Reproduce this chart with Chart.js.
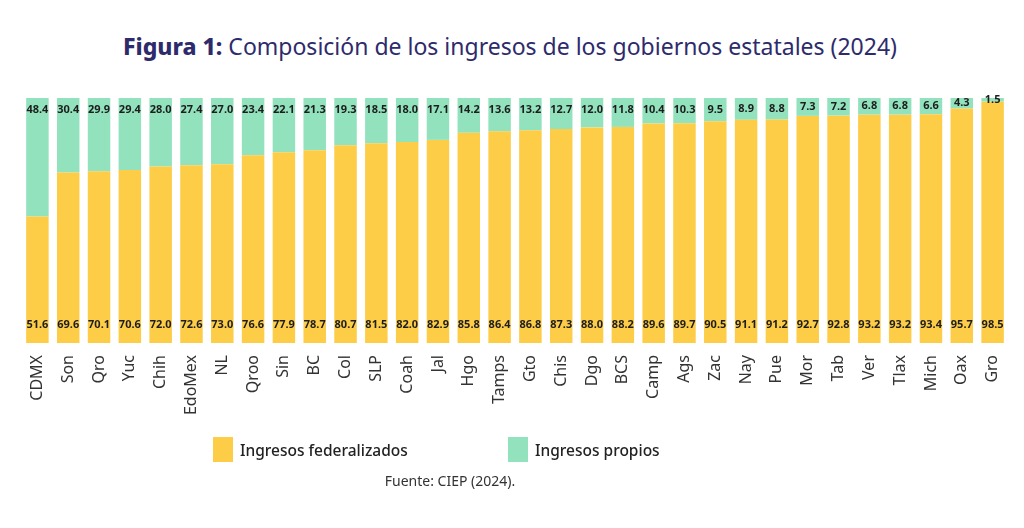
<!DOCTYPE html>
<html>
<head>
<meta charset="utf-8">
<script src="https://cdn.jsdelivr.net/npm/chart.js@4"></script>
<style>
    body { margin: 0; background: #fff; width: 1024px; height: 528px; overflow: hidden; position: relative; font-family: "Noto Sans", sans-serif; }
    #title { position: absolute; top: 30px; left: 0; width: 1020px; text-align: center; font-size: 23px; color: #2e2b6c; }
    #title b { font-weight: 800; }
    #chart_wrap { position: absolute; left: 0; top: 0; width: 1024px; height: 528px; }
    .legend_item { position: absolute; top: 437px; display: flex; align-items: center; font-size: 15.5px; color: #222; font-weight: 500; }
    .legend_box { width: 20px; height: 25px; margin-right: 7px; }
    #source { position: absolute; top: 471px; left: 0; width: 900px; text-align: center; font-size: 14px; color: #333; }
</style>
</head>
<body>
<div id="title"><b>Figura 1:</b> Composición de los ingresos de los gobiernos estatales (2024)</div>
<div id="chart_wrap"><canvas id="results_chart" width="1024" height="528"></canvas></div>
<div class="legend_item" style="left:213px"><div class="legend_box" style="background:#fdcd48"></div>Ingresos federalizados</div>
<div class="legend_item" style="left:508px"><div class="legend_box" style="background:#93e2be"></div>Ingresos propios</div>
<div id="source">Fuente: CIEP (2024).</div>
<script>
const states = ['CDMX', 'Son', 'Qro', 'Yuc', 'Chih', 'EdoMex', 'NL', 'Qroo', 'Sin', 'BC', 'Col', 'SLP', 'Coah', 'Jal', 'Hgo', 'Tamps',
    'Gto', 'Chis', 'Dgo', 'BCS', 'Camp', 'Ags', 'Zac', 'Nay', 'Pue', 'Mor', 'Tab', 'Ver', 'Tlax', 'Mich', 'Oax', 'Gro'];
const federalizados = [51.6, 69.6, 70.1, 70.6, 72.0, 72.6, 73.0, 76.6, 77.9, 78.7, 80.7, 81.5, 82.0, 82.9, 85.8, 86.4,
    86.8, 87.3, 88.0, 88.2, 89.6, 89.7, 90.5, 91.1, 91.2, 92.7, 92.8, 93.2, 93.2, 93.4, 95.7, 98.5];
const propios = [48.4, 30.4, 29.9, 29.4, 28.0, 27.4, 27.0, 23.4, 22.1, 21.3, 19.3, 18.5, 18.0, 17.1, 14.2, 13.6,
    13.2, 12.7, 12.0, 11.8, 10.4, 10.3, 9.5, 8.9, 8.8, 7.3, 7.2, 6.8, 6.8, 6.6, 4.3, 1.5];

// draws the value labels inside the bars
const barLabels = {
    id: 'barLabels',
    afterDatasetsDraw(chart) {
        const ctx = chart.ctx;
        ctx.save();
        ctx.font = 'bold 11px "Noto Sans"';
        ctx.fillStyle = '#1d1d1d';
        ctx.textAlign = 'center';
        ctx.textBaseline = 'middle';
        const fed = chart.getDatasetMeta(0).data;
        const own = chart.getDatasetMeta(1).data;
        fed.forEach((bar, i) => {
            ctx.fillText(federalizados[i].toFixed(1), bar.x, bar.base - 18);
        });
        own.forEach((bar, i) => {
            const mid = (bar.y + bar.base) / 2;
            ctx.fillText(propios[i].toFixed(1), bar.x, Math.min(bar.y + 12, mid));
        });
        ctx.restore();
    }
};

const config = {
    type: 'bar',
    data: {
        labels: states,
        datasets: [
            {
                label: 'Ingresos federalizados',
                data: federalizados,
                backgroundColor: '#fdcd48',
                barPercentage: 0.73,
                categoryPercentage: 1
            },
            {
                label: 'Ingresos propios',
                data: propios,
                backgroundColor: '#93e2be',
                barPercentage: 0.73,
                categoryPercentage: 1
            }
        ]
    },
    options: {
        responsive: false,
        animation: false,
        layout: { padding: { top: 98, left: 22, right: 16, bottom: 0 } },
        scales: {
            x: {
                stacked: true,
                grid: { display: false },
                border: { display: false },
                ticks: {
                    minRotation: 90,
                    maxRotation: 90,
                    autoSkip: false,
                    padding: 4,
                    color: '#333',
                    font: { family: 'Noto Sans', size: 16 }
                },
                afterFit: scale => { scale.height = 185; }
            },
            y: {
                stacked: true,
                display: false,
                min: 0,
                max: 100
            }
        },
        plugins: {
            legend: { display: false },
            tooltip: { enabled: false }
        }
    },
    plugins: [barLabels]
};

new Chart(document.getElementById('results_chart').getContext('2d'), config);
</script>
</body>
</html>
